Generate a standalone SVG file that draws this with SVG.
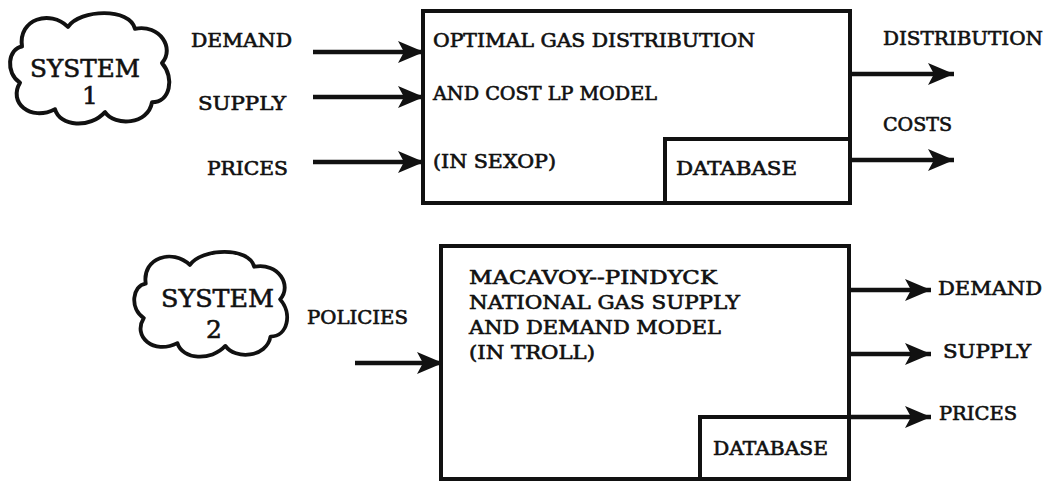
<svg xmlns="http://www.w3.org/2000/svg" width="1048" height="484" viewBox="0 0 1048 484">
  <style>
    .bg { fill: #ffffff; }
    .box { fill: none; stroke: #111; stroke-width: 4; stroke-linejoin: miter; }
    .cloud { fill: #ffffff; stroke: #111; stroke-width: 4; stroke-linejoin: round; }
    .link { fill: none; stroke: #111; stroke-width: 4.5; marker-end: url(#head); }
    text { font-family: "DejaVu Serif", "Liberation Serif", serif; font-size: 18px; fill: #111; stroke: #111; stroke-width: 0.6; }
    .big { font-size: 25px; }
  </style>
  <defs>
    <marker id="head" markerUnits="userSpaceOnUse" markerWidth="28" markerHeight="24" refX="26" refY="11" orient="auto">
      <path d="M0,0 L26,11 L0,22 L6,11 Z" fill="#111"/>
    </marker>
    <!-- cloud outline, centred on the origin, about 160 x 113 -->
    <path id="cloudShape" d="M -68,-22 C -72,-50 -40,-60 -22,-42 C -10,-60 40,-62 45,-40 C 70,-45 85,-20 72,-5 C 85,10 80,35 62,35 C 58,58 25,60 15,45 C 0,62 -30,60 -35,42 C -60,55 -82,35 -70,15 C -85,5 -82,-20 -68,-22 Z"/>
  </defs>

  <rect class="bg" x="0" y="0" width="1048" height="484"/>

  <!-- connectors -->
  <g id="connectors">
    <line class="link" x1="313" y1="52" x2="424" y2="52"/>
    <line class="link" x1="313" y1="97" x2="424" y2="97"/>
    <line class="link" x1="313" y1="162" x2="424" y2="162"/>
    <line class="link" x1="850" y1="74" x2="954" y2="74"/>
    <line class="link" x1="850" y1="160" x2="954" y2="160"/>
    <line class="link" x1="355" y1="363" x2="443" y2="363"/>
    <line class="link" x1="849" y1="290" x2="931" y2="290"/>
    <line class="link" x1="849" y1="354" x2="931" y2="354"/>
    <line class="link" x1="849" y1="417" x2="931" y2="417"/>
  </g>

  <!-- system 1 -->
  <g id="system1">
    <use href="#cloudShape" class="cloud" transform="translate(90,68) scale(1,0.98)"/>
    <text class="big" x="30" y="77" textLength="110" lengthAdjust="spacingAndGlyphs">SYSTEM</text>
    <text class="big" x="90" y="104" text-anchor="middle">1</text>
  </g>

  <!-- labels of the inputs to the LP model -->
  <g id="inputs1">
    <text x="191" y="47" textLength="101" lengthAdjust="spacingAndGlyphs">DEMAND</text>
    <text x="198" y="110" textLength="88" lengthAdjust="spacingAndGlyphs">SUPPLY</text>
    <text x="207" y="175" textLength="81" lengthAdjust="spacingAndGlyphs">PRICES</text>
  </g>

  <!-- LP model -->
  <g id="lpModel">
    <rect class="box" x="423" y="11" width="427" height="192"/>
    <text x="433" y="47" textLength="322" lengthAdjust="spacingAndGlyphs">OPTIMAL GAS DISTRIBUTION</text>
    <text x="433" y="100" textLength="224" lengthAdjust="spacingAndGlyphs">AND COST LP MODEL</text>
    <text x="433" y="168" textLength="123" lengthAdjust="spacingAndGlyphs">(IN SEXOP)</text>
  </g>
  <g id="lpDatabase">
    <rect class="box" x="665" y="139" width="185" height="64"/>
    <text x="676" y="175" textLength="121" lengthAdjust="spacingAndGlyphs">DATABASE</text>
  </g>

  <g id="outputs1">
    <text x="883" y="45" textLength="160" lengthAdjust="spacingAndGlyphs">DISTRIBUTION</text>
    <text x="883" y="131" textLength="69" lengthAdjust="spacingAndGlyphs">COSTS</text>
  </g>

  <!-- system 2 -->
  <g id="system2">
    <use href="#cloudShape" class="cloud" transform="translate(211,304) scale(0.96,0.93)"/>
    <text class="big" x="161" y="307" textLength="113" lengthAdjust="spacingAndGlyphs">SYSTEM</text>
    <text class="big" x="214" y="338" text-anchor="middle">2</text>
  </g>

  <g id="policies">
    <text x="307" y="324" textLength="101" lengthAdjust="spacingAndGlyphs">POLICIES</text>
  </g>

  <!-- supply and demand model -->
  <g id="troll">
    <rect class="box" x="441" y="246" width="408" height="233"/>
    <text x="469" y="284" textLength="248" lengthAdjust="spacingAndGlyphs">MACAVOY--PINDYCK</text>
    <text x="469" y="309" textLength="271" lengthAdjust="spacingAndGlyphs">NATIONAL GAS SUPPLY</text>
    <text x="469" y="334" textLength="252" lengthAdjust="spacingAndGlyphs">AND DEMAND MODEL</text>
    <text x="469" y="359" textLength="126" lengthAdjust="spacingAndGlyphs">(IN TROLL)</text>
  </g>
  <g id="trollDatabase">
    <rect class="box" x="700" y="417" width="149" height="62"/>
    <text x="713" y="455" textLength="115" lengthAdjust="spacingAndGlyphs">DATABASE</text>
  </g>

  <g id="outputs2">
    <text x="938" y="295" textLength="104" lengthAdjust="spacingAndGlyphs">DEMAND</text>
    <text x="943" y="358" textLength="88" lengthAdjust="spacingAndGlyphs">SUPPLY</text>
    <text x="939" y="420" textLength="78" lengthAdjust="spacingAndGlyphs">PRICES</text>
  </g>
</svg>
